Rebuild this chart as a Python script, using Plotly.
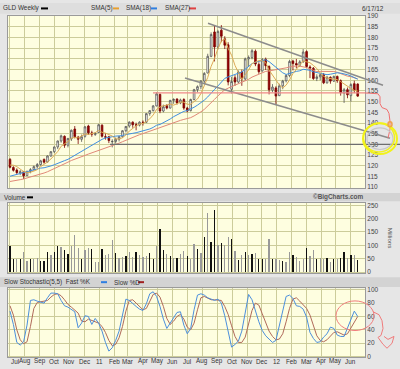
import pandas as pd
import plotly.graph_objects as go

W, H = 400, 369

# ---------------- data ----------------
dates = pd.date_range("2010-07-02", periods=103, freq="7D")

opens = [123.0, 119.2, 118.0, 116.6, 117.2, 115.4, 117.4, 118.2, 119.6, 120.6,
         123.0, 121.8, 124.6, 126.6, 128.8, 131.6, 133.8, 129.6, 132.6, 137.2,
         133.4, 132.4, 133.8, 138.6, 135.4, 134.6, 135.6, 139.0, 133.6, 133.6,
         131.2, 131.4, 132.4, 133.6, 136.4, 138.6, 140.4, 139.2, 139.0, 140.4,
         140.4, 144.4, 145.8, 148.0, 153.4, 145.6, 148.2, 147.0, 150.6, 151.2,
         149.4, 151.0, 147.0, 145.8, 151.0, 155.6, 157.0, 159.6, 163.4, 171.2,
         182.6, 175.6, 183.4, 179.4, 176.6, 155.8, 161.2, 159.2, 163.8, 160.6,
         170.0, 170.6, 173.6, 167.4, 164.4, 169.8, 166.4, 155.4, 156.4, 152.8,
         157.4, 159.8, 162.2, 169.0, 167.8, 167.0, 168.6, 173.4, 166.2, 165.6,
         160.8, 161.6, 162.6, 158.8, 161.4, 159.6, 161.8, 159.8, 154.0, 155.6,
         152.8, 158.4, 158.2]
highs = [123.6, 119.8, 118.8, 118.0, 117.6, 117.8, 118.9, 120.1, 121.3, 122.8,
         123.4, 124.9, 126.8, 129.0, 131.8, 134.6, 134.2, 133.0, 137.0, 138.6,
         134.0, 134.6, 138.6, 139.2, 136.4, 135.8, 139.6, 139.4, 135.2, 134.0,
         132.4, 133.2, 134.0, 136.6, 138.6, 140.8, 140.8, 140.2, 140.8, 141.2,
         144.6, 146.0, 148.4, 154.4, 153.8, 148.6, 148.8, 150.8, 151.6, 151.6,
         151.4, 151.6, 147.6, 151.4, 156.0, 157.6, 160.0, 163.8, 172.4, 182.4,
         185.4, 183.6, 185.8, 180.6, 177.8, 161.6, 162.4, 164.6, 165.0, 170.6,
         171.6, 174.6, 174.4, 168.4, 170.4, 170.6, 167.0, 158.2, 157.2, 158.4,
         160.2, 162.8, 169.6, 169.6, 170.0, 169.4, 174.6, 174.0, 167.0, 166.2,
         162.8, 163.2, 163.4, 162.0, 161.8, 162.2, 162.2, 160.4, 156.4, 156.6,
         158.6, 159.8, 158.6]
lows = [118.8, 117.3, 116.2, 115.6, 113.8, 115.2, 116.5, 117.8, 118.9, 120.0,
        121.0, 121.5, 124.2, 126.0, 127.8, 130.8, 128.4, 128.6, 131.6, 132.8,
        130.2, 131.2, 133.2, 134.4, 133.6, 134.0, 135.4, 133.2, 132.2, 130.6,
        128.6, 130.4, 131.4, 133.2, 135.6, 137.8, 137.8, 136.6, 138.4, 138.8,
        140.0, 143.4, 145.4, 147.8, 144.6, 145.0, 146.4, 146.8, 149.0, 148.6,
        148.8, 146.2, 145.0, 145.4, 150.6, 154.4, 155.8, 158.4, 163.2, 170.8,
        168.8, 174.4, 177.8, 174.6, 157.6, 153.8, 157.4, 158.6, 157.4, 159.8,
        166.2, 169.8, 166.6, 163.0, 164.0, 164.8, 153.4, 154.4, 148.4, 152.6,
        155.8, 159.0, 161.4, 164.6, 165.6, 166.2, 168.2, 165.8, 161.0, 160.2,
        159.6, 160.0, 158.2, 158.4, 158.4, 159.2, 158.8, 152.8, 149.4, 151.6,
        150.0, 154.0, 152.2]
closes = [119.3, 117.9, 116.8, 117.2, 115.3, 117.3, 118.2, 119.6, 120.6, 122.3,
          121.7, 124.6, 126.6, 128.8, 131.6, 134.0, 129.6, 132.8, 136.6, 133.6,
          132.4, 133.6, 138.2, 135.4, 134.8, 135.2, 139.2, 133.8, 133.4, 131.8,
          131.4, 132.4, 133.6, 136.4, 138.4, 140.4, 139.2, 139.0, 140.4, 140.2,
          144.4, 145.8, 148.0, 153.6, 145.6, 147.6, 147.0, 150.6, 151.0, 149.4,
          150.8, 147.0, 145.6, 151.0, 155.6, 157.0, 159.6, 163.2, 171.2, 181.4,
          175.6, 182.8, 180.6, 176.4, 159.2, 159.4, 159.2, 163.8, 160.6, 170.0,
          170.6, 173.8, 167.6, 164.0, 169.6, 166.8, 155.6, 156.8, 152.6, 157.4,
          159.6, 162.2, 168.8, 167.8, 167.2, 168.6, 173.2, 166.4, 165.6, 160.8,
          161.6, 162.6, 158.8, 161.4, 159.6, 161.8, 159.8, 154.2, 155.6, 153.2,
          158.0, 155.4, 152.6]
# weekly closes before the first visible bar (seed the moving averages)
pre_closes = [107.3, 111.5, 109.8, 106.2, 105.9, 103.5, 106.7, 109.7, 108.9,
              110.2, 108.6, 108.1, 107.3, 109.8, 112.9, 112.1, 112.4, 115.4,
              118.9, 119.9, 115.8, 118.9, 118.4, 120.0, 122.3, 121.8]

volumes = [97, 47, 50, 47, 76, 41, 50, 50, 54, 42,
           41, 75, 62, 75, 97, 94, 82, 66, 97, 137,
           91, 47, 82, 89, 85, 39, 37, 86, 62, 66,
           119, 70, 52, 57, 61, 76, 57, 74, 62, 56,
           60, 71, 50, 99, 160, 81, 66, 60, 51, 51,
           66, 80, 60, 47, 106, 85, 70,
           132, 222, 112, 232, 100, 107, 100, 132, 122, 79,
           45, 62, 75, 65, 67, 72, 50, 50, 50, 122,
           47, 50, 45, 41, 37, 76, 62, 57, 41, 50,
           91, 60, 81, 47, 54, 47, 51, 39, 47, 47,
           52, 75, 54, 62, 62, 44]
vol_dark = [1, 1, 0, 1, 0, 0, 1, 0, 0, 1,
            1, 1, 0, 1, 1, 0, 1, 1, 0, 0,
            0, 1, 0, 0, 1, 0, 0, 1, 0, 0,
            0, 1, 0, 0, 1, 0, 0, 1, 0, 0,
            0, 1, 1, 0, 1, 1, 0, 1, 0, 1,
            0, 0, 1, 0, 0, 1, 0,
            1, 0, 1, 1, 0, 1, 0, 0, 1, 0,
            1, 0, 1, 0, 1, 0, 1, 1, 0, 0,
            1, 0, 0, 1, 0, 0, 1, 0, 0, 0,
            1, 0, 0, 1, 0, 0, 1, 0, 1, 0,
            1, 1, 0, 1, 0, 1]

fast_k = [68, 48, 21, 17, 22, 47, 84, 85, 83, 82,
          80, 88, 95, 95, 94, 84, 76, 74, 71, 67,
          43, 50, 61, 60, 48, 57, 50, 38, 21, 8,
          13, 24, 38, 62, 86, 84, 79, 75, 71, 69,
          79, 94, 97, 90, 75, 56, 42, 50, 60, 66,
          67, 47, 34, 42, 70, 92, 94, 92, 88, 86,
          84, 86, 80, 61, 38, 14, 18, 23, 38, 64,
          93, 85, 68, 52, 39, 31, 26, 21, 24, 45,
          70, 90, 92, 87, 76, 75, 71, 59, 36, 27,
          21, 22, 29, 34, 44, 42, 32, 30, 30, 42,
          54, 68, 60]
slow_d = [76, 62, 40, 25, 19, 22, 45, 72, 81, 82,
          82, 84, 89, 93, 94, 91, 85, 78, 74, 70,
          65, 53, 52, 56, 54, 53, 50, 45, 36, 24,
          16, 18, 28, 45, 68, 84, 85, 80, 75, 70,
          72, 83, 93, 95, 89, 75, 57, 48, 53, 60,
          63, 56, 44, 40, 50, 70, 88, 90, 87, 85,
          85, 85, 84, 75, 63, 46, 30, 21, 21, 29,
          49, 69, 80, 77, 64, 50, 38, 30, 25, 26,
          34, 52, 72, 86, 88, 83, 78, 72, 62, 46,
          31, 24, 22, 25, 30, 36, 37, 35, 32, 34,
          42, 52, 60]

month_ticks = pd.date_range("2010-07-01", "2012-06-01", freq="MS")
month_labels = ["Jul", "Aug", "Sep", "Oct", "Nov", "Dec", "11", "Feb", "Mar",
                "Apr", "May", "Jun", "Jul", "Aug", "Sep", "Oct", "Nov", "Dec",
                "12", "Feb", "Mar", "Apr", "May", "Jun"]
price_ticks = list(range(110, 191, 5))
vol_ticks = [0, 50, 100, 150, 200, 250]
stoch_ticks = [0, 20, 40, 60, 80, 100]

# moving averages of the weekly closes
all_closes = pd.Series(pre_closes + closes)
sma5 = all_closes.rolling(5).mean().iloc[len(pre_closes):].tolist()
sma18 = all_closes.rolling(18).mean().iloc[len(pre_closes):].tolist()
sma27 = all_closes.rolling(27).mean().iloc[len(pre_closes):].tolist()

# ---------------- styling ----------------
FONT = "Liberation Sans"
BG_OUT = "#e6e6e6"
BAND = "#d3d3d3"
PLOT_BG = "#fefee0"
GRID = "#cccc9a"
BORDER = "#9a9a9a"
X_RANGE = ["2010-06-27 22:00", "2012-06-29 23:00"]


def pp(x, y):
    return x / W, 1 - y / H


def path(points):
    s = ""
    for i, (x, y) in enumerate(points):
        px, py = pp(x, y)
        s += ("M" if i == 0 else "L") + f"{px:.5f},{py:.5f} "
    return s.strip()


def line_shape(x0, y0, x1, y1, color, width, dash="solid"):
    a, b = pp(x0, y0)
    c, d = pp(x1, y1)
    return dict(type="line", xref="paper", yref="paper", x0=a, y0=b, x1=c, y1=d,
                line=dict(color=color, width=width, dash=dash))


def rect_shape(x0, y0, x1, y1, color, layer="below"):
    a, b = pp(x0, y0)
    c, d = pp(x1, y1)
    return dict(type="rect", xref="paper", yref="paper", x0=a, y0=d, x1=c, y1=b,
                fillcolor=color, line=dict(width=0), layer=layer)


def ellipse(cx, cy, rx, ry, color, width):
    a, b = pp(cx - rx, cy - ry)
    c, d = pp(cx + rx, cy + ry)
    return dict(type="circle", xref="paper", yref="paper", x0=a, y0=d, x1=c, y1=b,
                line=dict(color=color, width=width))


fig = go.Figure()

fig.add_trace(go.Candlestick(
    x=dates, open=opens, high=highs, low=lows, close=closes,
    increasing=dict(line=dict(color="#555555", width=0.8), fillcolor="#ffffff"),
    decreasing=dict(line=dict(color="#7a0000", width=0.8), fillcolor="#990000"),
    whiskerwidth=0, xaxis="x", yaxis="y", showlegend=False, hoverinfo="skip"))
fig.add_trace(go.Scatter(x=dates, y=sma27, mode="lines", line=dict(color="#e08878", width=1),
                         xaxis="x", yaxis="y", showlegend=False, hoverinfo="skip"))
fig.add_trace(go.Scatter(x=dates, y=sma18, mode="lines", line=dict(color="#3f8fe0", width=1),
                         xaxis="x", yaxis="y", showlegend=False, hoverinfo="skip"))
fig.add_trace(go.Scatter(x=dates, y=sma5, mode="lines", line=dict(color="#ddaa55", width=1),
                         xaxis="x", yaxis="y", showlegend=False, hoverinfo="skip"))

fig.add_trace(go.Bar(x=dates, y=volumes,
                     marker=dict(color=["#111111" if d else "#999999" for d in vol_dark],
                                 line=dict(width=0)),
                     width=2.6 * 86400000, xaxis="x2", yaxis="y2",
                     showlegend=False, hoverinfo="skip"))

fig.add_trace(go.Scatter(x=dates, y=slow_d, mode="lines", line=dict(color="#b06a5a", width=1),
                         xaxis="x3", yaxis="y3", showlegend=False, hoverinfo="skip"))
fig.add_trace(go.Scatter(x=dates, y=fast_k, mode="lines", line=dict(color="#4b8fdc", width=1),
                         xaxis="x3", yaxis="y3", showlegend=False, hoverinfo="skip"))

xdom = [8 / W, 365 / W]
xcommon = dict(type="date", range=X_RANGE, domain=xdom, tickmode="array",
               tickvals=month_ticks, showgrid=True, gridcolor=GRID, gridwidth=1,
               showline=True, mirror=True, linecolor=BORDER, linewidth=1,
               ticks="", zeroline=False, fixedrange=True, showticklabels=False)
ytick_font = dict(family=FONT, size=6.5, color="#444444")
ycommon = dict(side="right", showgrid=True, gridcolor=GRID, gridwidth=1,
               showline=True, mirror=True, linecolor=BORDER, linewidth=1,
               ticks="", zeroline=False, tickfont=ytick_font, tickmode="array",
               fixedrange=True)

fig.update_layout(
    width=W, height=H, autosize=False,
    margin=dict(l=0, r=0, t=0, b=0, pad=0),
    paper_bgcolor=BG_OUT, plot_bgcolor=PLOT_BG,
    showlegend=False, bargap=0,
    xaxis=dict(**xcommon, anchor="y", rangeslider=dict(visible=False)),
    xaxis2=dict(**xcommon, anchor="y2", matches="x"),
    xaxis3=dict(**xcommon, anchor="y3", matches="x"),
    yaxis=dict(**ycommon, domain=[1 - 187.5 / H, 1 - 12.7 / H], range=[109.63, 190.28],
               tickvals=price_ticks, anchor="x"),
    yaxis2=dict(**ycommon, domain=[1 - 274 / H, 1 - 202.7 / H], range=[-4.8, 258.5],
                tickvals=vol_ticks, anchor="x2"),
    yaxis3=dict(**ycommon, domain=[1 - 359.3 / H, 1 - 289.3 / H], range=[-1.5, 102.1],
                tickvals=stoch_ticks, anchor="x3"),
)

shapes = []
# header bands
shapes.append(rect_shape(0, 0, 400, 11, "#dedede"))
shapes.append(rect_shape(0, 192.5, 400, 201, BAND))
shapes.append(rect_shape(0, 278, 400, 288, BAND))
# legend dashes
shapes.append(line_shape(41, 5.5, 48, 5.5, "#000000", 2))
shapes.append(line_shape(113, 5.5, 119, 5.5, "#e8a030", 2))
shapes.append(line_shape(151, 5.5, 157, 5.5, "#2f7fe0", 2))
shapes.append(line_shape(189, 5.5, 196, 5.5, "#e04040", 2))
shapes.append(line_shape(27, 197, 33, 197, "#000000", 2))
shapes.append(line_shape(101, 283, 107, 283, "#2f7fe0", 2))
shapes.append(line_shape(138, 283, 144, 283, "#a02020", 2))

# drawn trend lines
shapes.append(line_shape(208, 20.5, 383, 83.5, "#8c8c8c", 1.6))
shapes.append(line_shape(185, 76, 390, 137, "#8c8c8c", 1.6))
shapes.append(line_shape(110, 143.3, 400, 143.3, "#6e6e6e", 1.2))
shapes.append(line_shape(153, 91.2, 365, 91.2, "#f08a8a", 1.2))

# hand drawn annotations (price panel)
shapes.append(dict(type="path", xref="paper", yref="paper",
                   path=path([(365, 91.2), (378, 92), (380, 95), (380, 102), (382, 106),
                              (387, 108), (389, 112), (390, 120), (390, 128), (388, 137)]),
                   line=dict(color="#f07070", width=1)))
shapes.append(ellipse(380, 137.5, 13, 11, "#c8c8c8", 1.2))
shapes.append(ellipse(380, 137.5, 17, 15.5, "#f2f21a", 2))
shapes.append(ellipse(379, 136.5, 15.5, 14.5, "#f2f21a", 1.5))
shapes.append(ellipse(390, 123, 2, 2.5, "#f0a050", 1.5))

# hand drawn annotations (stochastic panel)
shapes.append(ellipse(355, 317, 19, 15, "#f07c7c", 1))
shapes.append(dict(type="path", xref="paper", yref="paper",
                   path=path([(373, 313), (379, 316), (382, 322), (383, 330), (381, 337),
                              (378, 339), (383, 346), (387, 350), (392, 345), (394, 338),
                              (388, 341), (384, 338)]),
                   line=dict(color="#f07c7c", width=1)))

fig.update_layout(shapes=shapes)

ann = []


def text(x, y, s, size=6.4, color="#333333", anchor="left", bold=False, angle=0):
    a, b = pp(x, y)
    ann.append(dict(x=a, y=b, xref="paper", yref="paper", text=("<b>%s</b>" % s) if bold else s,
                    showarrow=False, xanchor=anchor, yanchor="middle", textangle=angle,
                    font=dict(family=FONT, size=size, color=color)))


text(1, 5.5, "GLD Weekly")
text(89, 5.5, "SMA(5)")
text(124, 5.5, "SMA(18)")
text(163, 5.5, "SMA(27)")
text(386, 5.5, "6/17/12")
ann[-1]["xanchor"] = "right"
text(2, 197, "Volume")
text(365, 197, "©BigCharts.com", color="#555555", anchor="right", bold=True)
text(2, 283, "Slow Stochastic(5,5)  Fast %K")
text(112, 283, "Slow %D")
text(390, 238, "Millions", size=6.2, color="#555555", anchor="center", angle=90)

# month labels under the stochastic panel, placed on the shared date axis
label_y = 1 - 363.4 / H
for i, (d, lab) in enumerate(zip(month_ticks, month_labels)):
    ann.append(dict(x=d, y=label_y, xref="x3", yref="paper", text=lab, showarrow=False,
                    xanchor="left" if i == 0 else "center", yanchor="middle", borderpad=0,
                    font=dict(family=FONT, size=6.3, color="#333333")))

fig.update_layout(annotations=ann)

# the page body has a default 8px margin; remove it so the figure fills the window
fig.write_html("out.html", config={"displayModeBar": False, "staticPlot": True},
               post_script="document.body.style.margin='0px';")
